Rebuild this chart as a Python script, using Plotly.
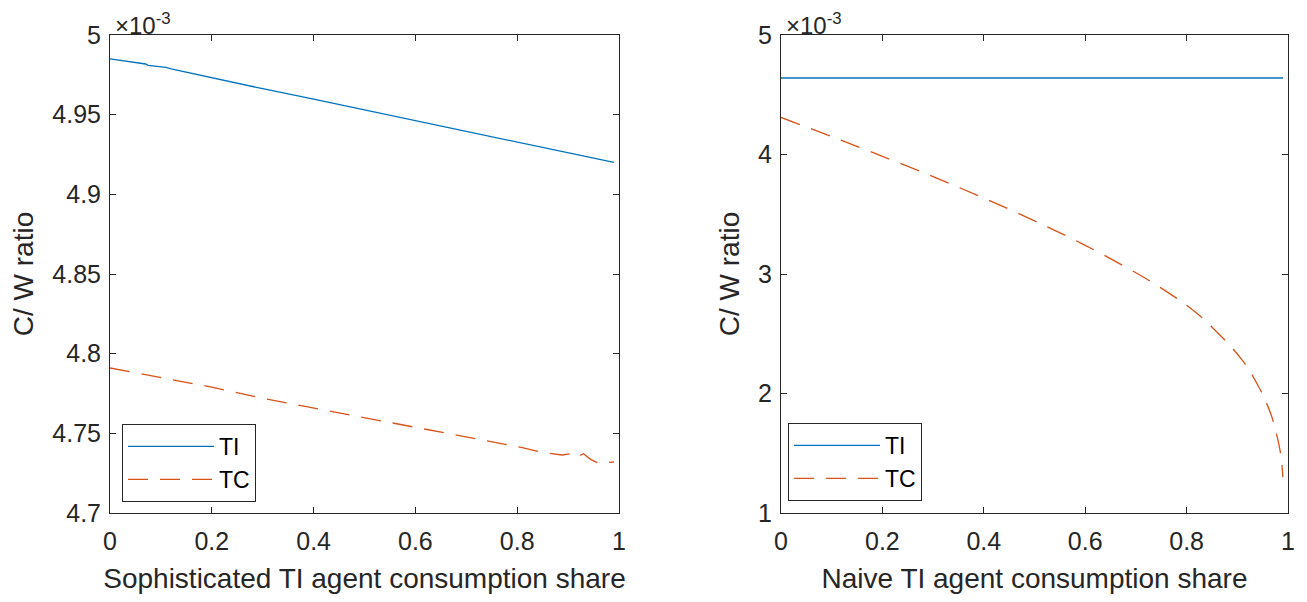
import plotly.graph_objects as go

# Left panel: sophisticated TI agent consumption share (values in units of 1e-3)
share_soph = [0.0, 0.05, 0.07, 0.075, 0.11, 0.12, 0.2, 0.3, 0.4, 0.5, 0.6, 0.7, 0.8, 0.9, 0.92, 0.95, 0.99]
ti_soph = [4.985, 4.9826, 4.9818, 4.9809, 4.9797, 4.9787, 4.9730, 4.9663, 4.9597, 4.9530, 4.9463, 4.9395, 4.9328, 4.9260, 4.9247, 4.9228, 4.9200]
share_soph_tc = [0.0, 0.1, 0.2, 0.3, 0.4, 0.5, 0.6, 0.7, 0.766, 0.81, 0.85, 0.87, 0.888, 0.91, 0.92, 0.93, 0.945, 0.959, 0.975, 0.99]
tc_soph = [4.791, 4.785, 4.779, 4.772, 4.766, 4.760, 4.754, 4.748, 4.744, 4.741, 4.738, 4.7372, 4.7364, 4.7375, 4.7355, 4.7372, 4.7335, 4.7314, 4.7318, 4.7320]

# Right panel: naive TI agent consumption share (values in units of 1e-3)
share_naive = [0.0, 0.99]
ti_naive = [4.64, 4.64]
share_naive_tc = [0.0, 0.1, 0.2, 0.3, 0.4, 0.5, 0.6, 0.7, 0.75, 0.8, 0.826, 0.846, 0.872, 0.889, 0.909, 0.923, 0.943, 0.953, 0.966, 0.972, 0.982, 0.986, 0.99]
tc_naive = [4.31, 4.15, 3.985, 3.815, 3.635, 3.445, 3.24, 3.01, 2.882, 2.738, 2.650, 2.572, 2.462, 2.385, 2.283, 2.20, 2.05, 1.965, 1.83, 1.75, 1.575, 1.48, 1.30]

x_ticks = [0, 0.2, 0.4, 0.6, 0.8, 1]
x_ticktext = ["0", "0.2", "0.4", "0.6", "0.8", "1"]
left_yticks = [4.7, 4.75, 4.8, 4.85, 4.9, 4.95, 5.0]
left_yticktext = ["4.7", "4.75", "4.8", "4.85", "4.9", "4.95", "5"]
right_yticks = [1, 2, 3, 4, 5]
right_yticktext = ["1", "2", "3", "4", "5"]

BLUE = "#0072BD"
ORANGE = "#D95319"
AX = "#262626"
FONT = "Liberation Sans, Arial, sans-serif"

fig = go.Figure()
fig.add_trace(go.Scatter(x=share_soph, y=ti_soph, mode="lines", name="TI",
                         line=dict(color=BLUE, width=1.3), xaxis="x", yaxis="y", legend="legend"))
fig.add_trace(go.Scatter(x=share_soph_tc, y=tc_soph, mode="lines", name="TC",
                         line=dict(color=ORANGE, width=1.3, dash="20px,12px"), xaxis="x", yaxis="y", legend="legend"))
fig.add_trace(go.Scatter(x=share_naive, y=ti_naive, mode="lines", name="TI",
                         line=dict(color=BLUE, width=1.3), xaxis="x2", yaxis="y2", legend="legend2"))
fig.add_trace(go.Scatter(x=share_naive_tc, y=tc_naive, mode="lines", name="TC", line_shape="spline",
                         line=dict(color=ORANGE, width=1.3, dash="20px,12px", smoothing=1.0),
                         xaxis="x2", yaxis="y2", legend="legend2"))

# page body has an 8px margin; figure is sized to fill the rest of the window
OFF = 8
W, H = 1307 - OFF, 602 - OFF
L1, R1, L2, R2 = 110, 619, 781, 1288
TOP, BOT = 35, 513

def px(x):
    return (x - OFF) / W

def py(y):
    return 1 - (y - OFF) / H

axis_common = dict(
    showline=True, linecolor=AX, linewidth=1, mirror="ticks",
    ticks="inside", ticklen=6, tickwidth=1, tickcolor=AX,
    showgrid=False, zeroline=False, automargin=False,
    tickfont=dict(family=FONT, size=25, color=AX),
)
title_font = dict(size=28, family=FONT, color=AX)

fig.update_layout(
    width=W, height=H,
    margin=dict(l=0, r=0, t=0, b=0),
    paper_bgcolor="white", plot_bgcolor="white",
    font=dict(family=FONT, color=AX),
    xaxis=dict(domain=[px(L1), px(R1)], range=[0, 1], tickvals=x_ticks, ticktext=x_ticktext,
               anchor="y", ticklabelstandoff=6,
               title=dict(text="Sophisticated TI agent consumption share", font=title_font, standoff=14),
               **axis_common),
    yaxis=dict(domain=[py(BOT), py(TOP)], range=[4.7, 5.0], tickvals=left_yticks, ticktext=left_yticktext,
               anchor="x", ticklabelstandoff=3,
               title=dict(text="C/ W ratio", font=title_font, standoff=10),
               **axis_common),
    xaxis2=dict(domain=[px(L2), px(R2)], range=[0, 1], tickvals=x_ticks, ticktext=x_ticktext,
                anchor="y2", ticklabelstandoff=6,
                title=dict(text="Naive TI agent consumption share", font=title_font, standoff=14),
                **axis_common),
    yaxis2=dict(domain=[py(BOT), py(TOP)], range=[1, 5], tickvals=right_yticks, ticktext=right_yticktext,
                anchor="x2", ticklabelstandoff=3,
                title=dict(text="C/ W ratio", font=title_font, standoff=10),
                **axis_common),
    legend=dict(x=px(122), y=py(424), xanchor="left", yanchor="top",
                bordercolor=AX, borderwidth=1, bgcolor="white",
                font=dict(family=FONT, size=23, color="black"), itemwidth=86, tracegroupgap=0),
    legend2=dict(x=px(788), y=py(423), xanchor="left", yanchor="top",
                 bordercolor=AX, borderwidth=1, bgcolor="white",
                 font=dict(family=FONT, size=23, color="black"), itemwidth=86, tracegroupgap=0),
    showlegend=True,
)

for xa in [L1, L2]:
    fig.add_annotation(x=px(xa + 3), y=py(TOP + 6), xref="paper", yref="paper",
                       xanchor="left", yanchor="bottom", showarrow=False,
                       text="×10<sup>-3</sup>", font=dict(family=FONT, size=24, color=AX))

fig.write_html("out.html")
